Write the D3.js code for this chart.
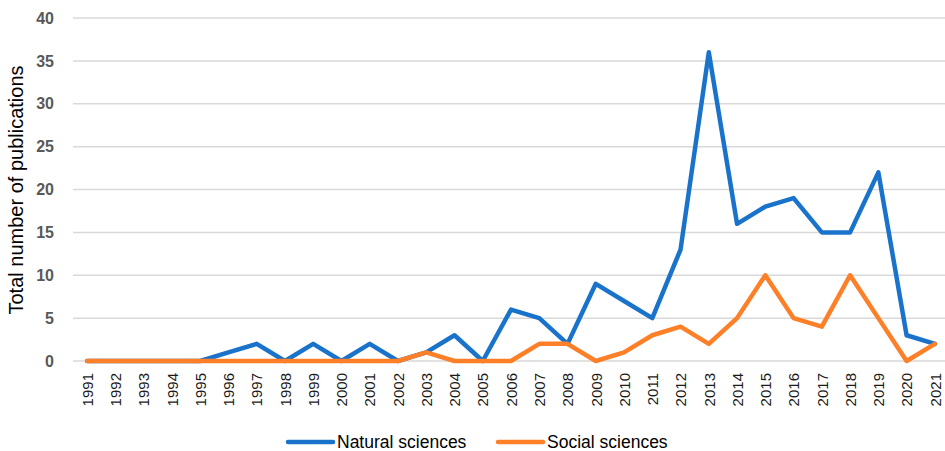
<!DOCTYPE html>
<html>
<head>
<meta charset="utf-8">
<script src="https://cdn.jsdelivr.net/npm/d3@7"></script>
<style>
  body { margin: 0; background: #fff; }
  svg { display: block; font-family: "Liberation Sans", Arial, sans-serif; }
</style>
</head>
<body>
<svg id="chart" width="945" height="451"></svg>
<script>
const years = d3.range(1991, 2022).map(String);
const naturalSciences = [0, 0, 0, 0, 0, 1, 2, 0, 2, 0, 2, 0, 1, 3, 0, 6, 5, 2, 9, 7, 5, 13, 36, 16, 18, 19, 15, 15, 22, 3, 2];
const socialSciences  = [0, 0, 0, 0, 0, 0, 0, 0, 0, 0, 0, 0, 1, 0, 0, 0, 2, 2, 0, 1, 3, 4, 2, 5, 10, 5, 4, 10, 5, 0, 2];
const yTicks = [0, 5, 10, 15, 20, 25, 30, 35, 40];

const series = [
    {name: "Natural sciences", values: naturalSciences, color: "#1A73CB"},
    {name: "Social sciences", values: socialSciences, color: "#FD7F27"}
];

const svg = d3.select("#chart");

const x = d3.scalePoint().domain(years).range([73, 949]).padding(0.5);
const y = d3.scaleLinear().domain([0, 40]).range([361, 18]);

// grid lines
const grid = svg.append("g").attr("class", "grid");
grid.selectAll("line").data(yTicks).enter().append("line")
    .attr("x1", 73).attr("x2", 949)
    .attr("y1", d => y(d)).attr("y2", d => y(d))
    .attr("stroke", "#d9d9d9").attr("stroke-width", 1.5);

// y axis labels
const yAxis = svg.append("g").attr("transform", "translate(54,0)")
    .call(d3.axisLeft(y).tickValues(yTicks).tickSize(0).tickPadding(0));
yAxis.select(".domain").remove();
yAxis.selectAll("text")
    .attr("font-family", "'Liberation Sans', Arial, sans-serif")
    .attr("font-size", 16).attr("font-weight", "bold").attr("fill", "#595959");

// x axis labels
const xAxis = svg.append("g").attr("transform", "translate(0,361)")
    .call(d3.axisBottom(x).tickSize(0));
xAxis.select(".domain").remove();
xAxis.selectAll("text")
    .attr("font-family", "'Liberation Sans', Arial, sans-serif")
    .attr("font-size", 15).attr("fill", "#1a1a1a")
    .attr("text-anchor", "end")
    .attr("transform", "rotate(-90)")
    .attr("x", -12).attr("y", 0).attr("dy", "0.35em");

// y title
svg.append("text")
    .attr("transform", "translate(23,190) rotate(-90)")
    .attr("text-anchor", "middle")
    .attr("font-size", 20).attr("fill", "#000")
    .text("Total number of publications");

// lines
const line = d3.line().x((d, i) => x(years[i])).y(d => y(d));
svg.append("g").selectAll("path").data(series).enter().append("path")
    .attr("d", d => line(d.values))
    .attr("fill", "none")
    .attr("stroke", d => d.color)
    .attr("stroke-width", 4.5)
    .attr("stroke-linejoin", "round")
    .attr("stroke-linecap", "round");

// legend
const legendX = [288, 498];
const legend = svg.append("g").selectAll("g").data(series).enter().append("g")
    .attr("transform", (d, i) => `translate(${legendX[i]},442)`);
legend.append("line")
    .attr("x1", 0).attr("x2", 45).attr("y1", 0).attr("y2", 0)
    .attr("stroke", d => d.color).attr("stroke-width", 4.5).attr("stroke-linecap", "round");
legend.append("text")
    .attr("x", 49).attr("y", 0).attr("dy", "0.35em")
    .attr("font-size", 17.5).attr("fill", "#000")
    .text(d => d.name);
</script>
</body>
</html>
